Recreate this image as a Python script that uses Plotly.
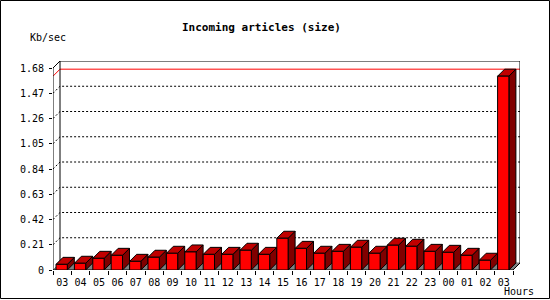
import plotly.graph_objects as go

# ---------------- data ----------------
hours = ["03", "04", "05", "06", "07", "08", "09", "10", "11", "12", "13", "14",
         "15", "16", "17", "18", "19", "20", "21", "22", "23", "00", "01", "02", "03"]
values = [0.047, 0.056, 0.097, 0.122, 0.072, 0.106, 0.139, 0.150, 0.130, 0.130,
          0.164, 0.130, 0.264, 0.180, 0.139, 0.155, 0.189, 0.139, 0.206, 0.197,
          0.155, 0.147, 0.122, 0.081, 1.612]
y_tickvals = [0, 0.21, 0.42, 0.63, 0.84, 1.05, 1.26, 1.47, 1.68]
y_ticktext = ["0", "0.21", "0.42", "0.63", "0.84", "1.05", "1.26", "1.47", "1.68"]
title_text = "Incoming articles (size)"
y_title = "Kb/sec"
x_title = "Hours"

# ---------------- geometry ----------------
FIG_W, FIG_H = 550, 300
n = len(values)
PPX = 18.4                      # pixels per category
YMAX = y_tickvals[-1]
PPY = 202 / YMAX                # pixels per value unit
DEPTH = 7                       # 3D depth in pixels
DX = DEPTH / PPX
DY = DEPTH / PPY
X_LO = -0.5
X_HI = n - 0.5 + DX
Y_HI = YMAX + DY
L, B = 53, 30
W = (X_HI - X_LO) * PPX
H = Y_HI * PPY
T = FIG_H - B - H
R = FIG_W - L - W

def px2paper(px, py):
    return (px - L) / W, (FIG_H - B - py) / H

FONT = "DejaVu Sans Mono"
BAR_L, BAR_R = -0.337, 0.277

fig = go.Figure()

# floor
fig.add_trace(go.Scatter(
    x=[X_LO, n - 0.5, n - 0.5 + DX, X_LO + DX, X_LO],
    y=[0, 0, DY, DY, 0], mode="lines", fill="toself",
    fillcolor="#808080", line=dict(color="#808080", width=1), hoverinfo="skip"))

# dotted grid lines (left wall + back wall)
gx, gy = [], []
for v in y_tickvals[1:-1]:
    gx += [X_LO, X_LO + DX, n - 0.5 + DX, None]
    gy += [v, v + DY, v + DY, None]
fig.add_trace(go.Scatter(x=gx, y=gy, mode="lines",
                         line=dict(color="black", width=1, dash="2px,2px"),
                         hoverinfo="skip"))

# max line (red)
vmax = max(values)
fig.add_trace(go.Scatter(x=[X_LO, X_LO + DX, n - 0.5 + DX],
                         y=[vmax, vmax + DY, vmax + DY], mode="lines",
                         line=dict(color="#FF0000", width=1), hoverinfo="skip"))

# frame
fx = [X_LO, X_LO, X_LO + DX, n - 0.5 + DX, n - 0.5 + DX, None,
      X_LO + DX, X_LO + DX, None, X_LO, n - 0.5, n - 0.5 + DX]
fy = [0, YMAX, YMAX + DY, YMAX + DY, DY, None,
      DY, YMAX + DY, None, 0, 0, DY]
fig.add_trace(go.Scatter(x=fx, y=fy, mode="lines",
                         line=dict(color="black", width=1), hoverinfo="skip"))

# bars: side, top, front faces
sx, sy, tx, ty, ox, oy = [], [], [], [], [], []
for i, v in enumerate(values):
    xl, xr = i + BAR_L, i + BAR_R
    sx += [xr, xr + DX, xr + DX, xr, xr, None]
    sy += [0, DY, v + DY, v, 0, None]
    tx += [xl, xr, xr + DX, xl + DX, xl, None]
    ty += [v, v, v + DY, v + DY, v, None]
    ox += [xl, xr, xr, xl, xl, None]
    oy += [0, 0, v, v, 0, None]
for xs, ys, col in [(sx, sy, "#800000"), (tx, ty, "#C00000"), (ox, oy, "#FF0000")]:
    fig.add_trace(go.Scatter(x=xs, y=ys, mode="lines", fill="toself",
                             fillcolor=col, line=dict(color="black", width=1),
                             hoverinfo="skip"))

# text
annos = []
tx_, ty_ = px2paper(261, 27)
annos.append(dict(text="<b>" + title_text + "</b>", x=tx_, y=ty_, xref="paper", yref="paper",
                  showarrow=False, xanchor="center", yanchor="middle",
                  font=dict(family=FONT, size=11, color="black")))
ax_, ay_ = px2paper(28, 37)
annos.append(dict(text=y_title, x=ax_, y=ay_, xref="paper", yref="paper",
                  showarrow=False, xanchor="left", yanchor="middle",
                  font=dict(family=FONT, size=10, color="black")))
hx_, hy_ = px2paper(519, 291.5)
annos.append(dict(text=x_title, x=hx_, y=hy_, xref="paper", yref="paper",
                  showarrow=False, xanchor="center", yanchor="middle",
                  font=dict(family=FONT, size=10, color="black")))

# outer border
bx0, by0 = px2paper(0.5, 298.5)
bx1, by1 = px2paper(549.5, 0.5)
shapes = [dict(type="rect", xref="paper", yref="paper", x0=bx0, y0=by0, x1=bx1, y1=by1,
               line=dict(color="black", width=1), fillcolor="rgba(0,0,0,0)", layer="above")]

fig.update_layout(
    width=FIG_W, height=FIG_H,
    margin=dict(l=L, r=R, t=T, b=B, pad=0),
    paper_bgcolor="white", plot_bgcolor="white",
    showlegend=False,
    annotations=annos, shapes=shapes,
    xaxis=dict(range=[X_LO, X_HI], showgrid=False, zeroline=False, showline=False,
               tickmode="array", tickvals=list(range(n)), ticktext=hours, ticks="",
               ticklabelstandoff=5,
               tickfont=dict(family=FONT, size=10, color="black"),
               minor=dict(tickmode="array", tickvals=[k - 0.5 for k in range(n + 1)],
                          ticks="outside", ticklen=4, tickwidth=1, tickcolor="black",
                          showgrid=False),
               fixedrange=True),
    yaxis=dict(range=[0, Y_HI], showgrid=False, zeroline=False, showline=False,
               tickmode="array", tickvals=y_tickvals, ticktext=y_ticktext,
               ticks="outside", ticklen=3, tickwidth=1, tickcolor="black",
               ticklabelstandoff=3,
               tickfont=dict(family=FONT, size=10, color="black"),
               fixedrange=True),
)

fig.write_html("out.html")
